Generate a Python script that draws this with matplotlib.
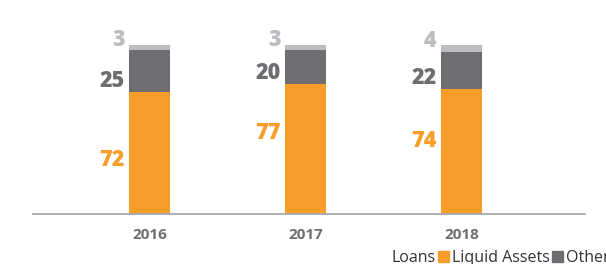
import matplotlib.pyplot as plt
from matplotlib.patches import Patch

# data
years = ['2016', '2017', '2018']
loans = [72, 77, 74]
liquid = [25, 20, 22]
other = [3, 3, 4]

c_loans = '#F99D2A'
c_liquid = '#6D6E71'
c_other = '#BCBDC0'

plt.rcParams['font.family'] = ['Open Sans', 'DejaVu Sans']

fig = plt.figure(figsize=(6.06, 2.64), dpi=100)
ax = fig.add_axes([0.0545, 0.189, 0.9105, 0.6405])

x = list(range(len(years)))
w = 0.263
ax.bar(x, loans, width=w, color=c_loans)
ax.bar(x, liquid, width=w, bottom=loans, color=c_liquid)
base2 = [a + b for a, b in zip(loans, liquid)]
ax.bar(x, other, width=w, bottom=base2, color=c_other)

# value labels, left of each bar
loans_label_y = [32, 48, 43]
lx_off = w / 2 + 0.03
for i in x:
    ax.text(i - lx_off, loans_label_y[i], str(loans[i]), ha='right', va='center',
            color=c_loans, fontsize=15.5, fontweight='heavy')
    ax.text(i - lx_off, loans[i] - 0.5, str(liquid[i]), ha='right', va='bottom',
            color=c_liquid, fontsize=15.5, fontweight='heavy')
    ax.text(i - lx_off, base2[i] - 1, str(other[i]), ha='right', va='bottom',
            color=c_other, fontsize=15.5, fontweight='heavy')

ax.set_xlim(-0.75, 2.79)
ax.set_ylim(0, 100)
ax.set_xticks(x)
ax.set_xticklabels(years, fontsize=11, fontweight='bold', color='#6D6E71')
ax.tick_params(axis='x', length=0, pad=10)
ax.set_yticks([])
for s in ['top', 'right', 'left']:
    ax.spines[s].set_visible(False)
ax.spines['bottom'].set_color('#A7A9AC')
ax.spines['bottom'].set_linewidth(1.3)

handles = [Patch(color=c_loans, label='Loans'),
           Patch(color=c_liquid, label='Liquid Assets'),
           Patch(color=c_other, label='Other Income')]
fig.legend(handles=handles, ncol=3, markerfirst=False, frameon=False,
           loc='center left', bbox_to_anchor=(392 / 606, 1 - 258 / 264),
           fontsize=11.5, handlelength=0.7, handleheight=0.7,
           handletextpad=0.1, columnspacing=0.2, borderpad=0, borderaxespad=0,
           labelcolor='#333333')

fig.savefig('out.png', dpi=100, facecolor='white')
